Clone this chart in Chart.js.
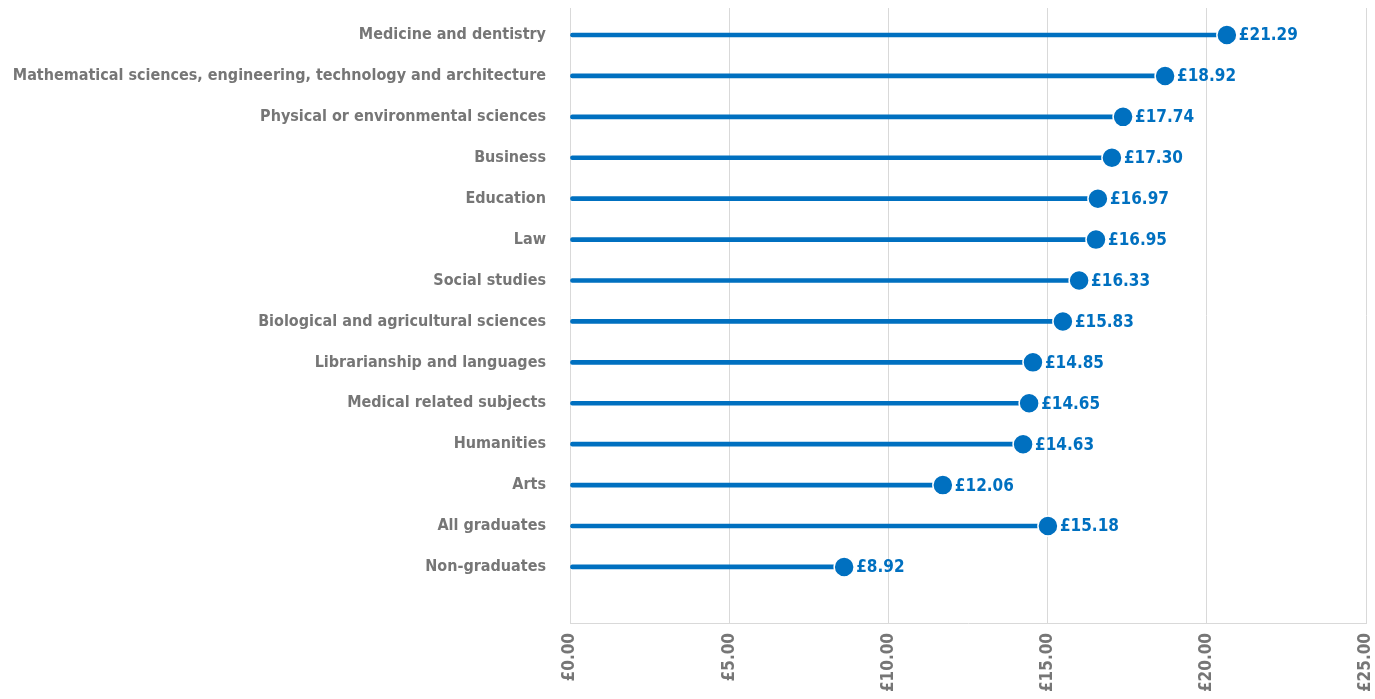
<!DOCTYPE html>
<html lang="en">
<head>
  <meta charset="UTF-8">
  <title>Hourly pay by subject</title>
  <style>
    html, body {
      margin: 0;
      padding: 0;
      background: #ffffff;
    }
    #wrap {
      width: 1375px;
      height: 699px;
      position: relative;
    }
  </style>
</head>
<body>
  <div id="wrap">
    <canvas id="grafico" width="1375" height="699"></canvas>
  </div>

  <script src="https://cdn.jsdelivr.net/npm/chart.js@4"></script>
  <script>
    // categories top to bottom
    const categories = [
      "Medicine and dentistry",
      "Mathematical sciences, engineering, technology and architecture",
      "Physical or environmental sciences",
      "Business",
      "Education",
      "Law",
      "Social studies",
      "Biological and agricultural sciences",
      "Librarianship and languages",
      "Medical related subjects",
      "Humanities",
      "Arts",
      "All graduates",
      "Non-graduates"
    ];

    // where the dots sit on the axis
    const values = [20.63, 18.69, 17.37, 17.02, 16.58, 16.52, 15.99, 15.48, 14.54, 14.42, 14.23, 11.71, 15.01, 8.61];

    // printed labels next to the dots
    const valueLabels = ["£21.29", "£18.92", "£17.74", "£17.30", "£16.97", "£16.95", "£16.33",
                         "£15.83", "£14.85", "£14.65", "£14.63", "£12.06", "£15.18", "£8.92"];

    const xTicks = [0, 5, 10, 15, 20, 25];

    const blue = "#0070C0";
    const grey = "#767676";
    const font = "'DejaVu Sans Condensed', 'Liberation Sans Narrow', Arial, sans-serif";

    const points = values.map((v, i) => ({ x: v, y: i }));

    // texto ao lado de cada ponto
    const labelPlugin = {
      id: "valueLabels",
      afterDatasetsDraw(chart) {
        const meta = chart.getDatasetMeta(1);
        const c = chart.ctx;
        c.save();
        c.font = "bold 17px " + font;
        c.fillStyle = blue;
        c.textAlign = "left";
        c.textBaseline = "middle";
        meta.data.forEach((pt, i) => {
          c.fillText(valueLabels[i], pt.x + 12, pt.y + 1);
        });
        c.restore();
      }
    };

    const ctx = document.getElementById("grafico").getContext("2d");
    const grafico = new Chart(ctx, {
      type: "bar",
      data: {
        datasets: [
          {
            type: "bar",
            data: points,
            backgroundColor: blue,
            barThickness: 4,
            borderRadius: 2,
            borderSkipped: false,
            order: 2
          },
          {
            type: "scatter",
            data: points,
            backgroundColor: blue,
            borderColor: "#ffffff",
            borderWidth: 1.5,
            pointRadius: 10,
            pointHoverRadius: 10,
            clip: false,
            order: 1
          }
        ]
      },
      options: {
        indexAxis: "y",
        responsive: false,
        animation: false,
        layout: { autoPadding: false, padding: { top: 8, right: 9, left: 0, bottom: 0 } },
        plugins: {
          legend: { display: false },
          tooltip: { enabled: false }
        },
        scales: {
          x: {
            type: "linear",
            min: 0,
            max: 25,
            afterBuildTicks(scale) {
              scale.ticks = xTicks.map(v => ({ value: v }));
            },
            afterFit(scale) {
              scale.height = 76;
              scale.paddingLeft = 0;
              scale.paddingRight = 0;
            },
            grid: { color: "#d9d9d9", lineWidth: 1, drawTicks: false },
            border: { color: "#d9d9d9" },
            ticks: {
              color: grey,
              font: { family: font, size: 17, weight: "bold" },
              minRotation: 90,
              maxRotation: 90,
              padding: 10,
              callback: v => "£" + Number(v).toFixed(2)
            }
          },
          y: {
            type: "linear",
            reverse: true,
            offset: false,
            min: -0.66,
            max: 14.37,
            afterBuildTicks(scale) {
              scale.ticks = categories.map((c, i) => ({ value: i }));
            },
            afterFit(scale) {
              scale.width = 570;
              scale.paddingTop = 0;
              scale.paddingBottom = 0;
            },
            grid: { display: false, drawTicks: false, offset: false },
            border: { display: false },
            ticks: {
              color: grey,
              font: { family: font, size: 16, weight: "bold" },
              padding: 24,
              callback: v => categories[v]
            }
          }
        }
      },
      plugins: [labelPlugin]
    });
  </script>
</body>
</html>
